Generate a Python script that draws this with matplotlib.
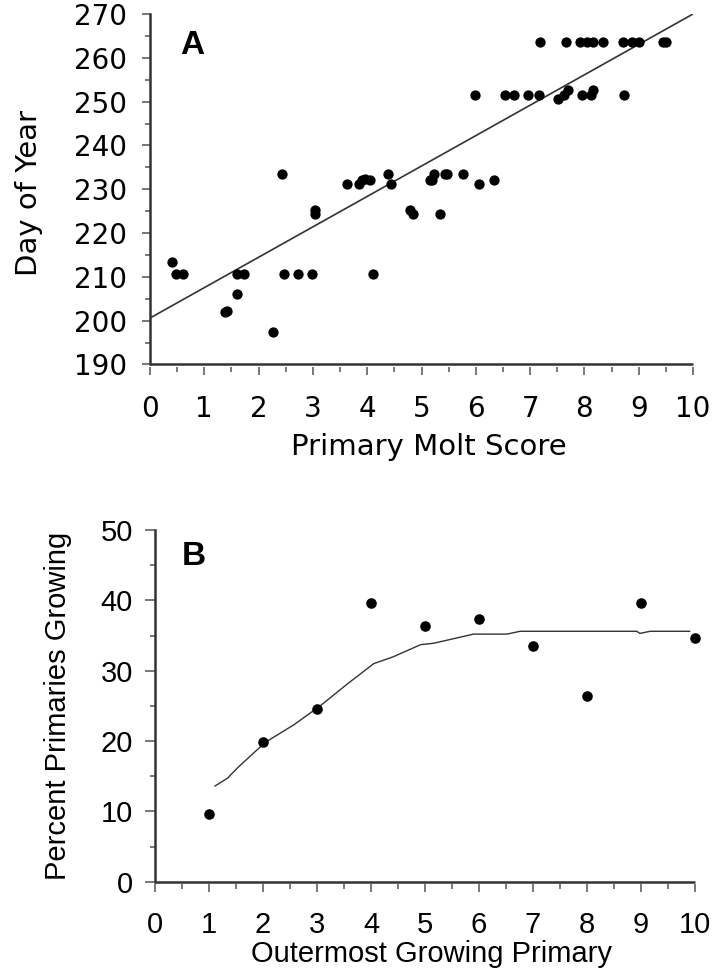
import matplotlib
matplotlib.use("Agg")
import matplotlib.pyplot as plt

# Panel A: primary molt score vs day of year
molt_score = [0.40, 0.47, 0.60, 1.38, 1.42, 1.60, 1.60, 1.73, 2.27, 2.44,
              2.47, 2.72, 2.99, 3.03, 3.03, 3.63, 3.85, 3.90, 3.96, 4.05,
              4.11, 4.39, 4.43, 4.79, 4.84, 5.16, 5.19, 5.23, 5.34, 5.43,
              5.47, 5.77, 6.06, 6.34, 5.99, 6.54, 6.70, 6.97, 7.17, 7.18,
              7.52, 7.62, 7.70, 7.66, 7.96, 8.13, 8.15, 7.92, 8.04, 8.16,
              8.34, 8.73, 8.72, 8.87, 9.01, 9.44, 9.51]
day_of_year = [213.5, 210.6, 210.6, 202.0, 202.2, 206.1, 210.6, 210.6, 197.4, 233.4,
               210.6, 210.6, 210.6, 225.3, 224.3, 231.3, 231.3, 232.0, 232.3, 232.2,
               210.6, 233.4, 231.3, 225.3, 224.3, 232.0, 232.2, 233.4, 224.3, 233.4,
               233.4, 233.4, 231.3, 232.2, 251.6, 251.6, 251.6, 251.6, 251.6, 263.5,
               250.6, 251.6, 252.6, 263.5, 251.6, 251.6, 252.6, 263.5, 263.5, 263.5,
               263.5, 251.6, 263.5, 263.5, 263.5, 263.5, 263.5]
fit_x = [0, 10]
fit_y = [200.6, 270.0]

# Panel B: outermost growing primary vs percent primaries growing
outer_primary = [1, 2, 3, 4, 5, 6, 7, 8, 9, 10]
pct_growing = [9.6, 19.8, 24.6, 39.6, 36.3, 37.4, 33.5, 26.4, 39.6, 34.7]
smooth_x = [1.11, 1.34, 1.53, 2.04, 2.57, 3.06, 3.56, 4.05, 4.42, 4.92,
            5.16, 5.90, 6.52, 6.76, 8.92, 8.98, 9.17, 9.90]
smooth_y = [13.6, 14.7, 16.2, 19.8, 22.3, 25.0, 28.1, 31.0, 32.0, 33.7,
            33.9, 35.2, 35.2, 35.6, 35.6, 35.3, 35.6, 35.6]

W, H = 716, 971
fig = plt.figure(figsize=(W / 100, H / 100), dpi=100)


def px_axes(l, t, r, b):
    return fig.add_axes([l / W, 1 - b / H, (r - l) / W, (b - t) / H])


def style(ax, font, size, ylen, xpad, ypad):
    for s in ['top', 'right']:
        ax.spines[s].set_visible(False)
    ax.spines['left'].set_color('#333333')
    ax.spines['left'].set_linewidth(1.8)
    # x ticks sit a little below the axis line
    ax.spines['bottom'].set_position(('outward', 2))
    ax.spines['bottom'].set_color('none')
    ax.plot([0, 1], [0, 0], transform=ax.transAxes, color='#333333',
            lw=1.8, clip_on=False, solid_capstyle='butt')
    ax.tick_params(which='both', direction='out', width=1.4,
                   color='#777777', labelsize=size)
    ax.tick_params(axis='x', which='major', length=6, pad=xpad)
    ax.tick_params(axis='x', which='minor', length=3.5)
    ax.tick_params(axis='y', which='major', length=ylen, pad=ypad)
    ax.tick_params(axis='y', which='minor', length=3.5)
    for lab in ax.get_xticklabels() + ax.get_yticklabels():
        lab.set_fontfamily(font)


# ---- Panel A ----
axA = px_axes(150, 14, 693, 364.5)
axA.scatter(molt_score, day_of_year, s=55, color='black', zorder=3,
            linewidths=0, clip_on=False)
axA.plot(fit_x, fit_y, color='#333333', lw=1.2)
axA.set_xlim(0, 10)
axA.set_ylim(190, 270)
axA.set_xticks(range(0, 11))
axA.set_xticks([i + 0.5 for i in range(10)], minor=True)
axA.set_yticks(range(190, 271, 10))
axA.set_yticks(range(195, 270, 10), minor=True)
style(axA, 'DejaVu Sans', 20, ylen=6, xpad=14, ypad=10.5)
axA.set_xlabel('Primary Molt Score', fontfamily='DejaVu Sans', fontsize=21,
               labelpad=7)
axA.set_ylabel('Day of Year', fontfamily='DejaVu Sans', fontsize=21,
               labelpad=22)
axA.xaxis.label.set_x(0.514)
axA.yaxis.label.set_y(0.488)
axA.text(0.055, 0.955, 'A', transform=axA.transAxes, fontsize=24,
         fontweight='bold', fontfamily='Liberation Sans', va='top', ha='left')

# ---- Panel B ----
axB = px_axes(155, 530, 695, 881.7)
axB.scatter(outer_primary, pct_growing, s=58, color='black', zorder=3,
            linewidths=0, clip_on=False)
axB.plot(smooth_x, smooth_y, color='#333333', lw=1.0)
axB.set_xlim(0, 10)
axB.set_ylim(0, 50)
axB.set_xticks(range(0, 11))
axB.set_xticks([i + 0.5 for i in range(10)], minor=True)
axB.set_yticks(range(0, 51, 10))
axB.set_yticks(range(5, 50, 10), minor=True)
style(axB, 'Liberation Sans', 21, ylen=7.2, xpad=13, ypad=8.6)
axB.set_xlabel('Outermost Growing Primary', fontfamily='Liberation Sans',
               fontsize=21, labelpad=0.5)
axB.set_ylabel('Percent Primaries Growing', fontfamily='Liberation Sans',
               fontsize=21, labelpad=21)
axB.xaxis.label.set_x(0.512)
axB.text(0.05, 0.97, 'B', transform=axB.transAxes, fontsize=24,
         fontweight='bold', fontfamily='Liberation Sans', va='top', ha='left')

fig.savefig('out.png', dpi=100)
